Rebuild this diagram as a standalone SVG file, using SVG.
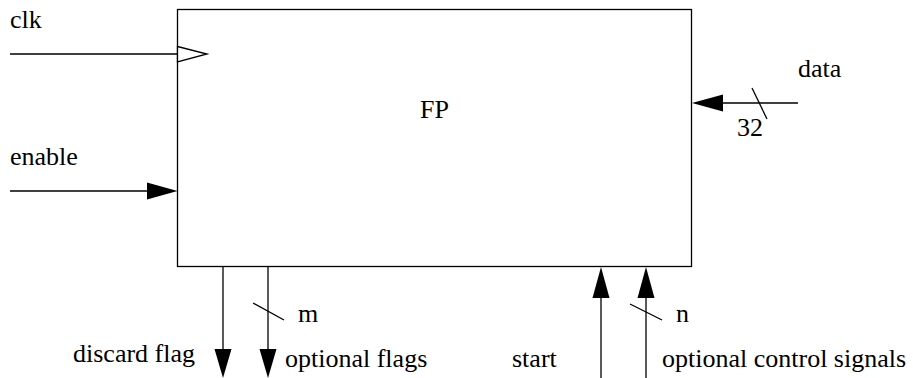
<svg xmlns="http://www.w3.org/2000/svg" width="913" height="378" viewBox="0 0 913 378">
<style>
.t{font-family:'Liberation Serif','Times New Roman',serif;font-size:26px;fill:#000}
.w{stroke:#000;stroke-width:1.3;fill:none}
.h{fill:#000;stroke:none}
</style>
<rect width="913" height="378" fill="#fff"/>
<g id="FP">
<rect class="w" x="177.5" y="9.5" width="514" height="257"/>
<text class="t" x="420" y="118">FP</text>
</g>
<g id="connectors">
<g id="clk">
<line class="w" x1="10" y1="54" x2="177" y2="54"/>
<polygon points="177.5,46.5 207,54 177.5,62" fill="#fff" stroke="#000" stroke-width="1.3"/>
</g>
<g id="enable">
<line class="w" x1="10" y1="191" x2="150" y2="191"/>
<polygon class="h" points="147,182.5 177.5,191 147,199.5"/>
</g>
<g id="data">
<line class="w" x1="720" y1="103" x2="798" y2="103"/>
<polygon class="h" points="723,94.5 692,103 723,111.5"/>
<line class="w" x1="752" y1="88" x2="767" y2="119"/>
</g>
<g id="discard">
<line class="w" x1="223" y1="266" x2="223" y2="352"/>
<polygon class="h" points="214.5,349 231.5,349 223,378"/>
</g>
<g id="optflags">
<line class="w" x1="268" y1="266" x2="268" y2="352"/>
<polygon class="h" points="259.5,349 276.5,349 268,378"/>
<line class="w" x1="253" y1="303" x2="284" y2="320"/>
</g>
<g id="start">
<line class="w" x1="601" y1="295" x2="601" y2="378"/>
<polygon class="h" points="592.5,298 609.5,298 601,267"/>
</g>
<g id="optctrl">
<line class="w" x1="646" y1="295" x2="646" y2="378"/>
<polygon class="h" points="637.5,298 654.5,298 646,267"/>
<line class="w" x1="630" y1="304" x2="662" y2="320"/>
</g>
</g>
<g id="labels">
<text class="t" x="10" y="28">clk</text>
<text class="t" x="10" y="165">enable</text>
<text class="t" x="798" y="77">data</text>
<text class="t" x="737" y="136">32</text>
<text class="t" x="298" y="322">m</text>
<text class="t" x="676" y="322">n</text>
<text class="t" x="73" y="362">discard flag</text>
<text class="t" x="285" y="367">optional flags</text>
<text class="t" x="512" y="367">start</text>
<text class="t" x="662" y="367">optional control signals</text>
</g>
</svg>
